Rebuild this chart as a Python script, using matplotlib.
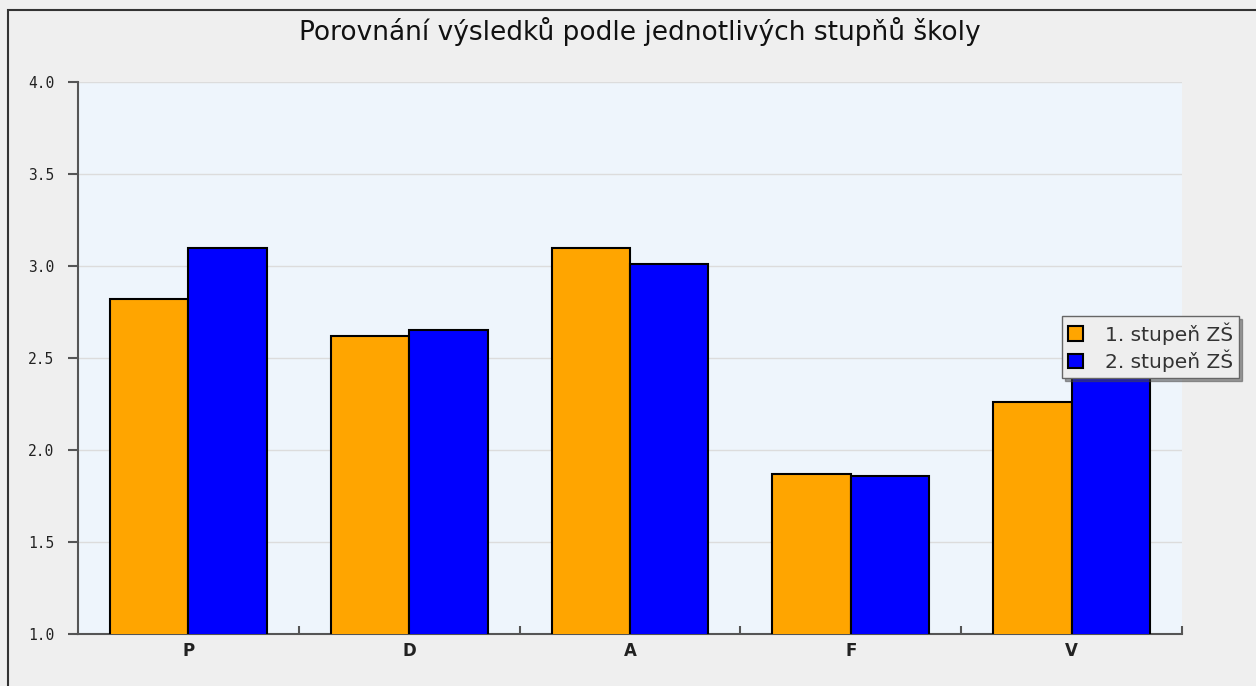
import numpy as np
import matplotlib.pyplot as plt
from matplotlib.patches import Rectangle

categories = ['P', 'D', 'A', 'F', 'V']
stupen1 = [2.82, 2.62, 3.10, 1.87, 2.26]
stupen2 = [3.10, 2.65, 3.01, 1.86, 2.45]
series_names = ['1. stupeň ZŠ', '2. stupeň ZŠ']
colors = ['#ffa500', '#0000ff']

fig = plt.figure(figsize=(12.56, 6.86), dpi=100)
fig.patch.set_facecolor('#efefef')

# outer frame line (top/left of the original widget)
fig.add_artist(Rectangle((8 / 1256, -0.1), 1.2, (686 - 10) / 686 + 0.1,
                         transform=fig.transFigure, fill=False,
                         edgecolor='#333333', linewidth=1.5))

ax = fig.add_axes([78 / 1256, 1 - 634 / 686, (1182 - 78) / 1256, (634 - 82) / 686])
ax.set_facecolor('#eef5fc')

x = np.arange(len(categories))
w = 0.355
ax.bar(x - w / 2, stupen1, w, color=colors[0], edgecolor='black',
       linewidth=1.5, label=series_names[0], zorder=3)
ax.bar(x + w / 2, stupen2, w, color=colors[1], edgecolor='black',
       linewidth=1.5, label=series_names[1], zorder=3)

ax.set_xlim(-0.5, len(categories) - 0.5)
ax.set_ylim(1.0, 4.0)
yt = [1.0, 1.5, 2.0, 2.5, 3.0, 3.5, 4.0]
ax.set_yticks(yt)
ax.set_yticklabels(['%.1f' % v for v in yt],
                   family='DejaVu Sans Mono', fontsize=10.5, color='#222222')
ax.yaxis.grid(True, color='#dcdcdc', linewidth=1, zorder=0)

ax.set_xticks(x)
ax.set_xticklabels(categories, fontweight='bold', fontsize=12, color='#222222')
ax.tick_params(axis='x', length=0, pad=6)
ax.set_xticks(np.arange(len(categories)) + 0.5, minor=True)
ax.tick_params(axis='x', which='minor', direction='in', length=6,
               color='#555555', width=1.5)
ax.tick_params(axis='y', direction='out', length=7, color='#555555',
               width=1.5, pad=10)

for s in ['top', 'right']:
    ax.spines[s].set_visible(False)
for s in ['left', 'bottom']:
    ax.spines[s].set_color('#555555')
    ax.spines[s].set_linewidth(1.5)

fig.text(640 / 1256, 1 - 32 / 686, 'Porovnání výsledků podle jednotlivých stupňů školy',
         ha='center', va='center', fontsize=19, color='#111111')

leg = fig.legend(loc='upper left', bbox_to_anchor=(1062 / 1256, 1 - 316 / 686),
                 fontsize=14.5, frameon=True, fancybox=False, shadow=True,
                 handlelength=0.75, handleheight=0.75, handletextpad=1.1,
                 borderpad=0.3, labelspacing=0.25, borderaxespad=0)
leg.get_frame().set_facecolor('#eeeeee')
leg.get_frame().set_edgecolor('#666666')
leg.get_frame().set_alpha(1)
for t in leg.get_texts():
    t.set_color('#333333')

fig.savefig('out.png', dpi=100, facecolor=fig.get_facecolor())
